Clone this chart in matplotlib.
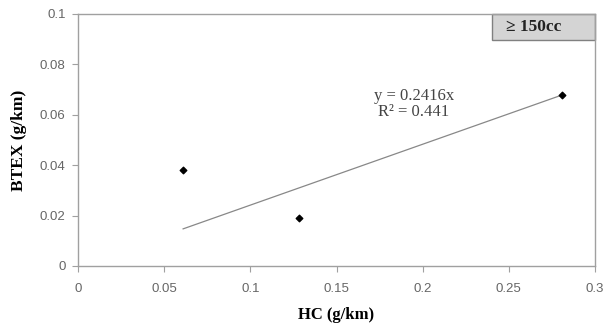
import numpy as np
import matplotlib.pyplot as plt

hc = [0.061, 0.128, 0.281]
btex = [0.038, 0.019, 0.068]
slope = 0.2416
r2 = 0.441
xticks = [0, 0.05, 0.1, 0.15, 0.2, 0.25, 0.3]
xtick_labels = ['0', '0.05', '0.1', '0.15', '0.2', '0.25', '0.3']
yticks = [0, 0.02, 0.04, 0.06, 0.08, 0.1]
ytick_labels = ['0', '0.02', '0.04', '0.06', '0.08', '0.1']

fig = plt.figure(figsize=(6.05, 3.24), dpi=100)
ax = fig.add_axes([78 / 605, 1 - 266 / 324, 517 / 605, 252 / 324])

# trendline through origin, drawn over the data range
xs = np.array([min(hc), max(hc)])
ax.plot(xs, slope * xs, color='#888888', linewidth=0.9, zorder=2)
ax.scatter(hc, btex, marker='D', s=11, color='black', zorder=3)

ax.set_xlim(0, 0.3)
ax.set_ylim(0, 0.1)
ax.set_xticks(xticks)
ax.set_xticklabels(xtick_labels)
ax.set_yticks(yticks)
ax.set_yticklabels(ytick_labels)

for s in ax.spines.values():
    s.set_color('#a0a0a0')
    s.set_linewidth(1.0)
ax.tick_params(axis='both', colors='#a0a0a0', labelcolor='#666666',
               labelsize=9.5, length=4, direction='out')
ax.tick_params(axis='x', pad=8)
ax.tick_params(axis='y', pad=5)
for lab in ax.get_xticklabels() + ax.get_yticklabels():
    lab.set_family('Liberation Sans')

ax.set_xlabel('HC (g/km)', family='Liberation Serif', fontweight='bold',
              fontsize=12, labelpad=9)
ax.set_ylabel('BTEX (g/km)', family='Liberation Serif', fontweight='bold',
              fontsize=12.5, labelpad=9)

ax.text(0.195, 0.0641, 'y = 0.2416x\nR² = 0.441', family='Liberation Serif',
        fontsize=12, color='#444444', ha='center', va='center',
        linespacing=1.0)

ax.text(0.2645, 0.0948, '≥ 150cc', family='Liberation Serif', fontweight='bold',
        fontsize=12.5, color='#222222', ha='center', va='center')
box = plt.Rectangle((0.2405, 0.0895), 0.0595, 0.0105, facecolor='#d4d4d4',
                    edgecolor='#808080', linewidth=1.0, zorder=1,
                    transform=ax.transData, clip_on=False)
ax.add_patch(box)

fig.savefig('out.png', dpi=100)
